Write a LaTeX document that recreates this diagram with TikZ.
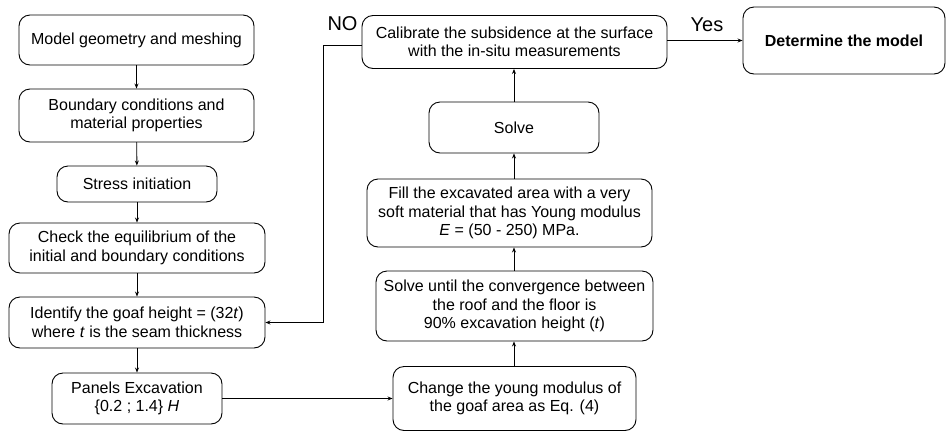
\documentclass[tikz,border=0pt]{standalone}
\usepackage{fontspec}
\setmainfont{Liberation Sans}
\usetikzlibrary{arrows.meta}
\begin{document}
\begin{tikzpicture}[x=1pt,y=-1pt,
  box/.style={draw, line width=0.9pt, rounded corners=11pt, align=center, inner sep=0pt,
    font=\fontsize{16}{18.5}\selectfont},
  arr/.style={-{Stealth[length=5pt,width=4pt]}, line width=0.9pt},
  lbl/.style={font=\fontsize{20}{24}\selectfont, inner sep=0pt}]
\useasboundingbox (0,0) rectangle (946,432);
% left column
\node[box, minimum width=235pt, minimum height=50pt] (b1) at (136.5,40) {Model geometry and meshing};
\node[box, minimum width=235pt, minimum height=53pt] (b2) at (136.5,115.5) {Boundary conditions and\\material properties};
\node[box, minimum width=160pt, minimum height=36pt] (b3) at (137,184) {Stress initiation};
\node[box, minimum width=256pt, minimum height=50pt] (b4) at (137,248) {Check the equilibrium of the\\initial and boundary conditions};
\node[box, minimum width=256pt, minimum height=51pt] (b5) at (137,322.5) {Identify the goaf height = (32\textit{t})\\where \textit{t} is the seam thickness};
\node[box, minimum width=170pt, minimum height=51pt] (b6) at (137,398.5) {Panels Excavation\\\{0.2 ; 1.4\} \textit{H}};
% right column
\node[box, minimum width=243pt, minimum height=64pt] (c1) at (514.5,398.5) {Change the young modulus of\\the goaf area as Eq. (4)};
\node[box, minimum width=277pt, minimum height=70pt] (c2) at (514.5,306) {Solve until the convergence between\\the roof and the floor is\\90\% excavation height (\textit{t})};
\node[box, minimum width=285pt, minimum height=68pt] (c3) at (509.5,213) {Fill the excavated area with a very\\soft material that has Young modulus\\\textit{E} = (50 - 250) MPa.};
\node[box, minimum width=170pt, minimum height=51pt] (c4) at (514,127.5) {Solve};
\node[box, minimum width=305pt, minimum height=53pt] (c5) at (514.5,42) {Calibrate the subsidence at the surface\\with the in-situ measurements};
\node[box, minimum width=202pt, minimum height=67pt] (d) at (844,40.5) {\bfseries Determine the model};
% labels
\node[lbl] (no) at (342.5,24) {NO};
\node[lbl] (yes) at (707,25) {Yes};
% connectors
\draw[arr] (b1) -- (b2);
\draw[arr] (b2) -- (b3);
\draw[arr] (b3) -- (b4);
\draw[arr] (b4) -- (b5);
\draw[arr] (b5) -- (b6);
\draw[arr] (b6.east) -- (c1.west);
\draw[arr] (c1.north -| 514,0) -- (c2.south -| 514,0);
\draw[arr] (c2.north -| 514,0) -- (c3.south -| 514,0);
\draw[arr] (c3.north -| 514,0) -- (c4.south -| 514,0);
\draw[arr] (c4.north -| 514,0) -- (c5.south -| 514,0);
\coordinate (nocorner) at (323,45);
\draw[arr] (c5.west |- nocorner) -- (nocorner) |- (b5.east);
\draw[arr] (c5.east |- d.west) -- (d.west);
\end{tikzpicture}
\end{document}
